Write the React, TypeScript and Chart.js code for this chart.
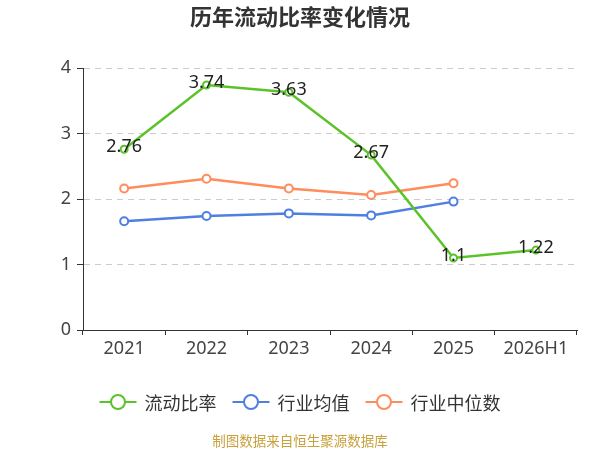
import React, { useRef, useEffect } from 'react';
import { Chart, registerables } from 'chart.js';

Chart.register(...registerables);

const years = ['2021', '2022', '2023', '2024', '2025', '2026H1'];
const currentRatio = [2.76, 3.74, 3.63, 2.67, 1.1, 1.22];
const industryMean = [1.66, 1.74, 1.78, 1.75, 1.96, null];
const industryMedian = [2.16, 2.31, 2.16, 2.06, 2.24, null];
const seriesNames = ['流动比率', '行业均值', '行业中位数'];
const seriesColors = ['#5bc32a', '#4f7fe1', '#fe8c5c'];

const FONT = '"Noto Sans", "Noto Sans CJK SC", sans-serif';
const CJK = '"Noto Sans CJK SC", "Noto Sans", sans-serif';

// titles, legend, footer and point labels
const decorPlugin = {
    id: 'decor',
    afterDraw(chart: any) {
        const ctx = chart.ctx;
        ctx.save();
        ctx.textBaseline = 'middle';
        ctx.textAlign = 'center';
        ctx.fillStyle = '#333';
        ctx.font = `bold 22px ${CJK}`;
        ctx.fillText('历年流动比率变化情况', 300, 17);

        // legend
        ctx.font = `18px ${CJK}`;
        const iconW = 37;
        const gap = 8;
        const itemGap = 16;
        const widths = seriesNames.map(n => iconW + gap + ctx.measureText(n).width);
        const total = widths.reduce((a, b) => a + b, 0) + itemGap * (widths.length - 1);
        let x = (600 - total) / 2;
        const ly = 402;
        seriesNames.forEach((name, i) => {
            ctx.strokeStyle = seriesColors[i];
            ctx.lineWidth = 2;
            ctx.beginPath();
            ctx.moveTo(x, ly);
            ctx.lineTo(x + iconW, ly);
            ctx.stroke();
            ctx.beginPath();
            ctx.arc(x + iconW / 2, ly, 7, 0, Math.PI * 2);
            ctx.fillStyle = '#fff';
            ctx.fill();
            ctx.stroke();
            ctx.fillStyle = '#333';
            ctx.textAlign = 'left';
            ctx.fillText(name, x + iconW + gap, ly + 1);
            x += widths[i] + itemGap;
        });

        ctx.textAlign = 'center';
        ctx.font = `13.5px ${CJK}`;
        ctx.fillStyle = '#c9a13b';
        ctx.fillText('制图数据来自恒生聚源数据库', 300, 441);

        // labels of the first series
        const meta = chart.getDatasetMeta(0);
        ctx.font = `18px ${FONT}`;
        ctx.fillStyle = '#222';
        meta.data.forEach((pt: any, i: number) => {
            ctx.fillText(String(currentRatio[i]), pt.x, pt.y - 2);
        });
        ctx.restore();
    }
};

const App: React.FC = () => {
    const chartRef = useRef<HTMLCanvasElement>(null);

    useEffect(() => {
        if (!chartRef.current) return;
        document.body.style.margin = '0';

        const mk = (label: string, data: any[], color: string, r: number) => ({
            label,
            data,
            borderColor: color,
            backgroundColor: '#fff',
            borderWidth: 2.5,
            pointRadius: r,
            pointBorderWidth: 2,
            pointBackgroundColor: '#fff',
            pointBorderColor: color,
            tension: 0,
        });

        const myChart = new Chart(chartRef.current, {
            type: 'line',
            data: {
                labels: years,
                datasets: [
                    mk(seriesNames[0], currentRatio, seriesColors[0], 3.5),
                    mk(seriesNames[1], industryMean, seriesColors[1], 4),
                    mk(seriesNames[2], industryMedian, seriesColors[2], 4),
                ]
            },
            options: {
                responsive: false,
                animation: false,
                layout: { padding: { top: 68, right: 23, left: 0, bottom: 0 } },
                plugins: {
                    legend: { display: false },
                    title: { display: false },
                    tooltip: { enabled: false },
                },
                scales: {
                    x: {
                        offset: true,
                        afterFit: (s: any) => { s.height = 120; },
                        grid: {
                            drawOnChartArea: false,
                            drawTicks: true,
                            tickLength: 5,
                            tickColor: '#333',
                            offset: true,
                        },
                        border: { display: true, color: '#333', width: 1 },
                        ticks: {
                            color: '#444',
                            font: { size: 18, family: FONT },
                            padding: 3,
                            maxRotation: 0,
                        },
                    },
                    y: {
                        min: 0,
                        max: 4,
                        afterFit: (s: any) => { s.width = 83; },
                        grid: {
                            color: '#ccc',
                            tickBorderDash: [],
                            tickColor: '#333',
                            tickLength: 6,
                        },
                        border: { display: true, color: '#333', width: 1, dash: [6, 5] },
                        ticks: {
                            stepSize: 1,
                            color: '#444',
                            font: { size: 18, family: FONT },
                            padding: 6,
                        },
                    }
                }
            },
            plugins: [decorPlugin]
        });

        return () => {
            myChart.destroy();
        };
    }, []);

    return (
        <div style={{ position: 'absolute', left: 0, top: 0, width: 600, height: 450, background: '#fff' }}>
            <canvas ref={chartRef} width={600} height={450} />
        </div>
    );
};

export default App;
